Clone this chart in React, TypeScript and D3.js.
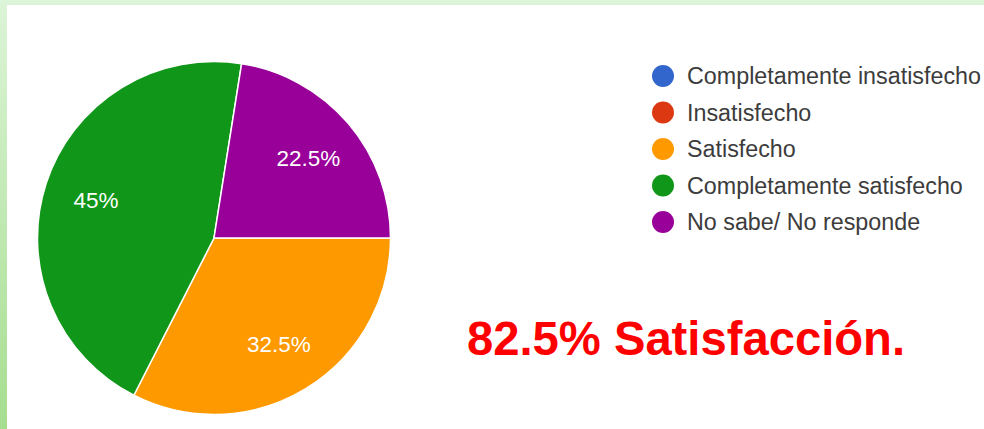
import React from "react";
import * as d3 from "d3";

const categories = [
  "Completamente insatisfecho",
  "Insatisfecho",
  "Satisfecho",
  "Completamente satisfecho",
  "No sabe/ No responde",
];
const values = [0, 0, 32.5, 45, 22.5];
const colors = ["#3366cc", "#dc3912", "#ff9900", "#109618", "#990099"];
const headline = "82.5% Satisfacción.";

const W = 984;
const H = 429;
const cx = 214;
const cy = 238;
const R = 176.5;
const labelR = 124;

export default function App() {
  const data = categories.map((c, i) => ({ c, v: values[i], color: colors[i] }));
  const pie = d3
    .pie<any>()
    .sort(null)
    .value((d) => d.v)
    .startAngle(Math.PI / 2)
    .endAngle(Math.PI / 2 + 2 * Math.PI);
  const arcs = pie(data);
  const arc = d3.arc<any>().innerRadius(0).outerRadius(R);
  const labelArc = d3.arc<any>().innerRadius(labelR).outerRadius(labelR);

  const legendY = d3.scalePoint<number>().domain(d3.range(categories.length)).range([76, 222]);

  return (
    <svg
      width={W}
      height={H}
      style={{ position: "absolute", left: 0, top: 0 }}
      fontFamily="'Liberation Sans', Arial, sans-serif"
    >
      <defs>
        <linearGradient id="lg" x1="0" y1="0" x2="0" y2="1">
          <stop offset="0" stopColor="#dcf4d7" />
          <stop offset="1" stopColor="#a6de90" />
        </linearGradient>
      </defs>
      <rect x={0} y={0} width={W} height={H} fill="#ffffff" />
      <rect x={0} y={0} width={W} height={5} fill="#dcf4d7" />
      <rect x={0} y={0} width={7} height={H} fill="url(#lg)" />
      <g transform={`translate(${cx},${cy})`}>
        {arcs
          .filter((a) => a.data.v > 0)
          .map((a, i) => (
            <path key={i} d={arc(a) as string} fill={a.data.color} stroke="#ffffff" strokeWidth={1.5} />
          ))}
        {arcs
          .filter((a) => a.data.v > 0)
          .map((a, i) => {
            const [x, y] = labelArc.centroid(a);
            return (
              <text
                key={i}
                x={x}
                y={y}
                textAnchor="middle"
                dy="0.36em"
                fill="#ffffff"
                fontSize={22.5}
              >
                {`${a.data.v}%`}
              </text>
            );
          })}
      </g>
      <g>
        {categories.map((c, i) => (
          <g key={c} transform={`translate(0,${legendY(i)})`}>
            <circle cx={663} cy={0} r={11} fill={colors[i]} />
            <text x={687} y={0} dy="0.36em" fontSize={23.3} fill="#3c3c3c">
              {c}
            </text>
          </g>
        ))}
      </g>
      <text
        x={467}
        y={355}
        fontSize={48}
        fontWeight="bold"
        fill="#ff0000"
        textLength={438}
        lengthAdjust="spacingAndGlyphs"
      >
        {headline}
      </text>
    </svg>
  );
}
